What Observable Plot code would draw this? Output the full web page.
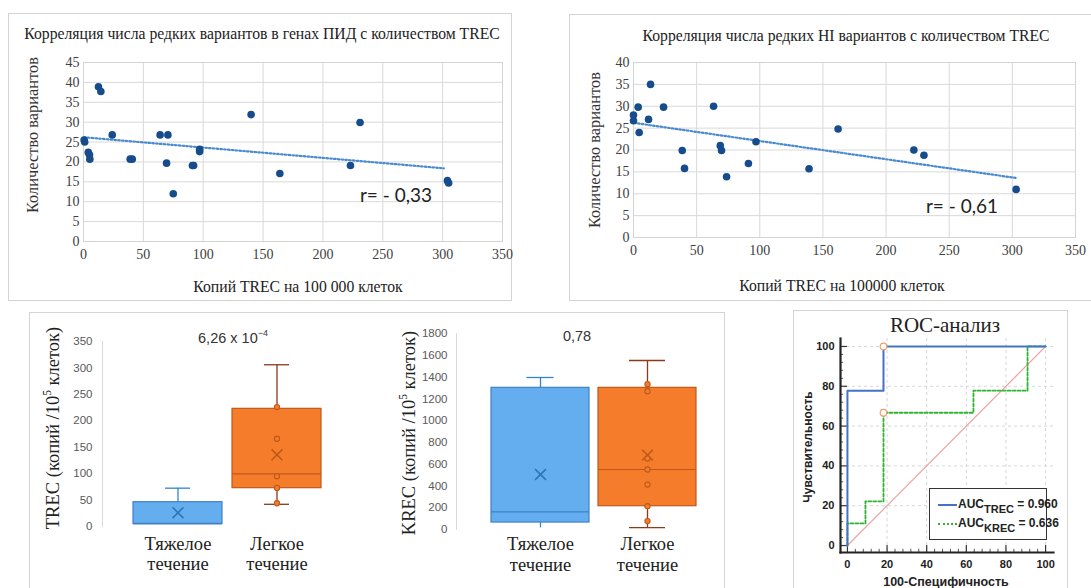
<!DOCTYPE html>
<html><head><meta charset="utf-8">
<script src="https://cdn.jsdelivr.net/npm/d3@7"></script>
<script src="https://cdn.jsdelivr.net/npm/@observablehq/plot@0.6"></script>
<style>
body{margin:0;background:#fff;}
#root{position:relative;width:1091px;height:588px;overflow:hidden;background:#fff;}
.box{position:absolute;border:1px solid #d4d4d4;box-sizing:border-box;}
.t{position:absolute;white-space:nowrap;line-height:1;}
.t sup{font-size:0.62em;vertical-align:0.7em;line-height:0;}
</style></head><body><div id="root"></div>
<script>
// ---------- DATA ----------
// Panel 1: rare variants in PID genes vs TREC
const p1Trec = [0.5,1,4,5,5.3,12.5,14.5,24,39,40.7,64,70.5,69.4,75,91,92,97,97,140,164,223,231,304,305];
const p1Vars = [25.5,25,22.4,21.8,20.7,38.9,37.7,26.8,20.7,20.7,26.8,26.8,19.7,12,19.1,19.1,23.2,22.6,31.9,17.1,19.1,29.9,15.3,14.7];
const p1TrendX = [0.5,301];
const p1TrendY = [26.2,18.4];
const p1YTicks = [0,5,10,15,20,25,30,35,40,45];
// Panel 2: rare HI variants vs TREC
const p2Trec = [0,0,3.7,4.5,11.9,13.5,23.8,38.6,40.4,63.4,68.7,69.7,73.7,91,97,139,162,222,230,303];
const p2Vars = [28,26.7,29.8,24,27,35,29.8,19.9,15.8,30,21,19.9,13.9,16.9,21.9,15.7,24.8,20,18.8,11];
const p2TrendX = [0.5,303];
const p2TrendY = [26.2,13.6];
const p2YTicks = [0,5,10,15,20,25,30,35,40];
const scatterXTicks = [0,50,100,150,200,250,300,350];
// Box plots
const groups = ["Тяжелое течение","Легкое течение"];
const trecQ1 = [5,72.5], trecMedian = [5,99.6], trecQ3 = [46,222.6], trecLow = [5,42], trecHigh = [72.5,306], trecMean = [26,135.6];
const trecPoints = [226,166,95,73,44];
const trecTicks = [0,50,100,150,200,250,300,350];
const krecQ1 = [64,214], krecMedian = [162,551], krecQ3 = [1301,1301], krecLow = [15,18], krecHigh = [1396,1552], krecMean = [505,683];
const krecPoints = [1335,1270,652,551,413,214,77];
const krecTicks = [0,200,400,600,800,1000,1200,1400,1600,1800];
// ROC
const trecFpr = [0,0,18.2,18.2,100];
const trecTpr = [0,77.8,77.8,100,100];
const krecFpr = [0,0,9.1,9.1,18.2,18.2,63.6,63.6,90.9,90.9,100];
const krecTpr = [0,11.1,11.1,22.2,22.2,66.7,66.7,77.8,77.8,100,100];
const cutFpr = [18.2,18.2], cutTpr = [100,66.7];
const diagX = [0,100], diagY = [0,100];
const rocTicks = [0,20,40,60,80,100];
const rocMinor = d3.range(0,101,4).filter(v => v % 20 !== 0);
const rocGrid = [20,40,60,80,100];

// ---------- HELPERS ----------
const root = document.getElementById("root");
const serif = "'Liberation Serif','Times New Roman',serif";
const sans = "'Liberation Sans',Arial,sans-serif";
function place(el, left, top){ el.style.position="absolute"; el.style.left=left+"px"; el.style.top=top+"px"; root.appendChild(el); return el; }
function box(left, top, w, h){ const d=document.createElement("div"); d.className="box"; d.style.width=w+"px"; d.style.height=h+"px"; return place(d,left,top); }
function label(html, cx, cy, css, rot){
  const d=document.createElement("div"); d.className="t"; d.innerHTML=html; d.style.cssText+=css;
  d.style.left=cx+"px"; d.style.top=cy+"px";
  d.style.transform="translate(-50%,-50%)"+(rot?" rotate(-90deg)":"");
  root.appendChild(d); return d;
}
const zip = (xs, ys) => xs.map((x,i)=>({x, y: ys[i]}));

// ---------- PANEL BORDERS ----------
box(8,13,504,288);
box(569,14,530,287);
box(29,312,696,300);
box(793,310,275,300);

// ---------- SCATTER PANELS ----------
function scatter(xs, ys, tx, ty, yTicks, opt){
  const pts = zip(xs, ys);
  return Plot.plot({
    width: opt.w, height: opt.h,
    marginLeft: opt.ml, marginRight: opt.mr, marginTop: opt.mt, marginBottom: opt.mb,
    style:{fontFamily: serif, fontSize:"14px", color:"#404040", background:"transparent", overflow:"visible"},
    x:{domain:[0,350]}, y:{domain:[0, yTicks[yTicks.length-1]]},
    marks:[
      Plot.gridX(scatterXTicks, {stroke:"#d9d9d9", strokeOpacity:1}),
      Plot.gridY(yTicks, {stroke:"#d9d9d9", strokeOpacity:1}),
      Plot.frame({stroke:"#d4d4d4"}),
      Plot.axisX(scatterXTicks, {tickSize:0, tickPadding:8, label:null, fontFamily:serif, fontSize:14, fill:"#404040"}),
      Plot.axisY(yTicks, {tickSize:0, tickPadding:4, label:null, fontFamily:serif, fontSize:14, fill:"#404040"}),
      Plot.line(zip(tx, ty), {x:"x", y:"y", stroke:"#4a8bd0", strokeWidth:2.2, strokeDasharray:"1.6,2.2"}),
      Plot.dot(pts, {x:"x", y:"y", r:3.8, fill:"#174c8c"})
    ]
  });
}
place(scatter(p1Trec, p1Vars, p1TrendX, p1TrendY, p1YTicks, {w:504,h:287,ml:75,mr:10,mt:49,mb:59}), 8, 13);
label("Корреляция числа редких вариантов в генах ПИД с количеством TREC", 262, 34, `font-family:${serif};font-size:15.7px;color:#222;`);
label("Количество вариантов", 33, 135, `font-family:${serif};font-size:16.4px;color:#333;`, true);
label("Копий TREC на 100 000 клеток", 298, 287, `font-family:${serif};font-size:15.7px;color:#222;`);
label("r= - 0,33", 396, 194, `font-family:Lato,sans-serif;font-size:19px;color:#222;`);

place(scatter(p2Trec, p2Vars, p2TrendX, p2TrendY, p2YTicks, {w:519,h:286,ml:64,mr:13,mt:48,mb:63}), 569, 14);
label("Корреляция числа редких HI вариантов с количеством TREC", 846, 36, `font-family:${serif};font-size:15.7px;color:#222;`);
label("Количество вариантов", 595, 150, `font-family:${serif};font-size:16.4px;color:#333;`, true);
label("Копий TREC на 100000 клеток", 842, 286, `font-family:${serif};font-size:15.7px;color:#222;`);
label("r= - 0,61", 962, 205, `font-family:Lato,sans-serif;font-size:19px;color:#222;`);

// ---------- BOX PLOTS ----------
const pal = [
  {fill:"#64aef0", stroke:"#3f80c6", whisker:"#2f84d6", mean:"#2e75b6"},
  {fill:"#f47c2a", stroke:"#c0581a", whisker:"#8b3a1a", mean:"#c0581a"}
];
function rowsOf(q1, med, q3, lo, hi, mean){ return groups.map((g,i)=>({cat:g, q1:q1[i], med:med[i], q3:q3[i], lo:lo[i], hi:hi[i], mean:mean[i]})); }
function boxPlot(rows, points, ticks, opt){
  const marks = [
    Plot.frame({anchor:"left", stroke:"#d9d9d9"}),
    Plot.axisY(ticks, {tickSize:0, tickPadding:opt.tp, label:null, fontFamily:sans, fontSize:11.5, fill:"#595959", tickFormat:d=>String(d)})
  ];
  rows.forEach((r,i)=>{
    const c = pal[i], d=[r];
    marks.push(Plot.ruleX(d, {x:"cat", y1:"q3", y2:"hi", stroke:c.whisker, strokeWidth:1.3}));
    marks.push(Plot.tickY(d, {x:"cat", y:"hi", stroke:c.whisker, strokeWidth:1.3, insetLeft:opt.cap[i], insetRight:opt.cap[i]}));
    if (r.lo < r.q1) {
      marks.push(Plot.ruleX(d, {x:"cat", y1:"lo", y2:"q1", stroke:c.whisker, strokeWidth:1.3}));
      if (opt.lowCap[i]) marks.push(Plot.tickY(d, {x:"cat", y:"lo", stroke:c.whisker, strokeWidth:1.3, insetLeft:opt.cap[i], insetRight:opt.cap[i]}));
    }
    marks.push(Plot.barY(d, {x:"cat", y1:"q1", y2:"q3", fill:c.fill, stroke:c.stroke, strokeWidth:1.2}));
    marks.push(Plot.tickY(d, {x:"cat", y:"med", stroke:c.stroke, strokeWidth:1.2}));
    marks.push(Plot.dot(d, {x:"cat", y:"mean", symbol:"times", r:5, stroke:c.mean, strokeWidth:1.6}));
  });
  marks.push(Plot.dot(points, {x:()=>groups[1], y:d=>d, r:2.6, fill:pal[1].fill, stroke:pal[1].stroke, strokeWidth:1.1}));
  marks.push(Plot.text(groups, {x:d=>d, text:d=>d.replace(" ","\n"), frameAnchor:"bottom", dy:opt.ldy, lineAnchor:"middle", lineHeight:1.12, fontFamily:serif, fontSize:18.5, fill:"#222"}));
  return Plot.plot({
    width:opt.w, height:opt.h, marginLeft:opt.ml, marginRight:0, marginTop:opt.mt, marginBottom:opt.mb,
    style:{fontFamily:sans, background:"transparent", overflow:"visible"},
    x:{domain:groups, range:opt.xr, paddingInner:opt.pi, paddingOuter:0, axis:null},
    y:{domain:[0, ticks[ticks.length-1]], axis:null},
    marks
  });
}
const trecRows = rowsOf(trecQ1, trecMedian, trecQ3, trecLow, trecHigh, trecMean);
place(boxPlot(trecRows, trecPoints, trecTicks, {w:351,h:276,ml:73,mt:29,mb:62,xr:[104,293],pi:0.1,tp:10,cap:[32,32],lowCap:[false,true],ldy:27}), 29, 312);
label("TREC (копий /10<sup>5</sup> клеток)", 53, 428, `font-family:${serif};font-size:18.5px;color:#222;`, true);
label("6,26 x 10<sup>−4</sup>", 233, 338, `font-family:${sans};font-size:14.5px;color:#333;`);

const krecRows = rowsOf(krecQ1, krecMedian, krecQ3, krecLow, krecHigh, krecMean);
place(boxPlot(krecRows, krecPoints, krecTicks, {w:345,h:276,ml:76,mt:21,mb:59,xr:[111,316],pi:0.085,tp:9,cap:[35.5,31],lowCap:[false,true],ldy:24.5}), 380, 312);
label("KREC (копий /10<sup>5</sup> клеток)", 409, 433, `font-family:${serif};font-size:18.5px;color:#222;`, true);
label("0,78", 577, 336, `font-family:${sans};font-size:14.5px;color:#333;`);

// ---------- ROC ----------
const yMin = -3.5, xMin = -3.5;
const roc = Plot.plot({
  width:275, height:278, marginLeft:47, marginRight:15, marginTop:28, marginBottom:36,
  style:{fontFamily:sans, fontSize:"11px", fontWeight:"bold", color:"#222", background:"transparent", overflow:"visible"},
  x:{domain:[xMin,104]}, y:{domain:[yMin,104]},
  marks:[
    Plot.gridX(rocGrid, {stroke:"#d6d6d6", strokeOpacity:1, strokeDasharray:"3,3"}),
    Plot.gridY(rocGrid, {stroke:"#d6d6d6", strokeOpacity:1, strokeDasharray:"3,3"}),
    Plot.axisX(rocTicks, {tickSize:0, tickPadding:8, label:null, fontWeight:"bold", fontSize:11, fill:"#222"}),
    Plot.axisY(rocTicks, {tickSize:0, tickPadding:6, label:null, fontWeight:"bold", fontSize:11, fill:"#222"}),
    Plot.ruleX(rocTicks, {x:d=>d, y1:yMin, y2:0, stroke:"#333", strokeWidth:1.2}),
    Plot.ruleY(rocTicks, {y:d=>d, x1:xMin, x2:0, stroke:"#333", strokeWidth:1.2}),
    Plot.ruleX(rocMinor, {x:d=>d, y1:yMin, y2:yMin+1.6, stroke:"#555"}),
    Plot.ruleY(rocMinor, {y:d=>d, x1:xMin, x2:xMin+1.6, stroke:"#555"}),
    Plot.frame({anchor:"left", stroke:"#222", strokeWidth:2.2}),
    Plot.frame({anchor:"bottom", stroke:"#222", strokeWidth:2.2}),
    Plot.line(zip(diagX, diagY), {x:"x", y:"y", stroke:"#eda4a4", strokeWidth:1.2}),
    Plot.line(zip(krecFpr, krecTpr), {x:"x", y:"y", stroke:"#2fb52f", strokeWidth:1.8, strokeDasharray:"3,2"}),
    Plot.line(zip(trecFpr, trecTpr), {x:"x", y:"y", stroke:"#4472c4", strokeWidth:2}),
    Plot.dot(zip(cutFpr, cutTpr), {x:"x", y:"y", r:3.3, stroke:"#f4a06a", fill:"#fff", strokeWidth:1.2})
  ]
});
place(roc, 793, 310);
label("ROC-анализ", 945, 325, `font-family:${serif};font-size:21px;color:#222;`);
label("100-Специфичность", 946, 582, `font-family:${sans};font-size:12.5px;font-weight:bold;color:#222;`);
label("Чувствительность", 808, 447, `font-family:${sans};font-size:12px;font-weight:bold;color:#222;`, true);

// legend
const lg = document.createElement("div");
lg.style.cssText = `width:118px;height:52px;border:1.5px solid #333;background:#fff;box-sizing:border-box;font-family:${sans};font-size:12px;font-weight:bold;color:#222;`;
place(lg, 929, 488);
[["#4472c4","solid","TREC","0.960",9],["#2fb52f","dotted","KREC","0.636",28]].forEach(([col, st, sub, v, top])=>{
  const row = document.createElement("div");
  row.style.cssText = `position:absolute;left:8px;top:${top}px;white-space:nowrap;line-height:12px;`;
  row.innerHTML = `<span style="display:inline-block;width:19px;border-top:2px ${st} ${col};vertical-align:middle;margin-right:1px;"></span>AUC<sub style="font-size:11px;vertical-align:-5px;line-height:0;">${sub}</sub> = ${v}`;
  lg.appendChild(row);
});
</script></body></html>
